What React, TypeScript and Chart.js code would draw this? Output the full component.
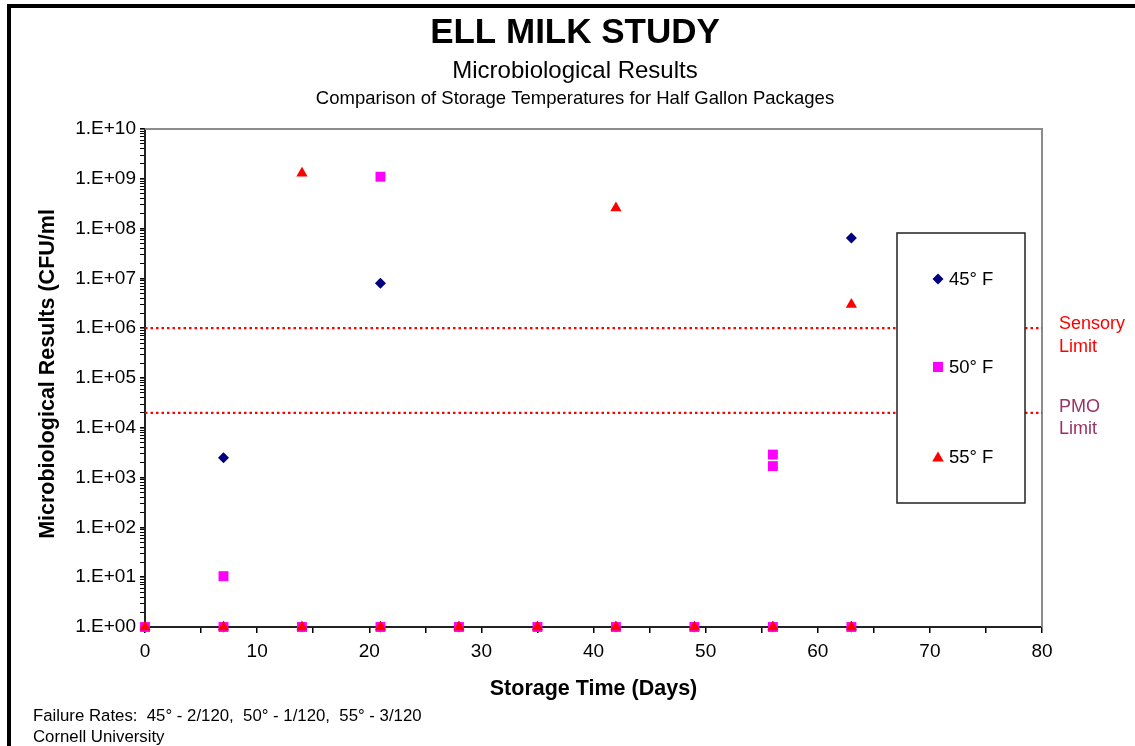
import React, { useEffect, useRef } from 'react';
import { Chart, registerables } from 'chart.js';

Chart.register(...registerables);

const FONT = '"Liberation Sans", Arial, Helvetica, sans-serif';

// ---- Data ----
const temp45F = [
  { x: 0, y: 1 }, { x: 7, y: 1 }, { x: 14, y: 1 }, { x: 21, y: 1 }, { x: 28, y: 1 },
  { x: 35, y: 1 }, { x: 42, y: 1 }, { x: 49, y: 1 }, { x: 56, y: 1 }, { x: 63, y: 1 },
  { x: 7, y: 2500 }, { x: 21, y: 8000000 }, { x: 63, y: 65000000 },
];
const temp50F = [
  { x: 0, y: 1 }, { x: 7, y: 1 }, { x: 14, y: 1 }, { x: 21, y: 1 }, { x: 28, y: 1 },
  { x: 35, y: 1 }, { x: 42, y: 1 }, { x: 49, y: 1 }, { x: 56, y: 1 }, { x: 63, y: 1 },
  { x: 7, y: 10.5 }, { x: 21, y: 1100000000 }, { x: 56, y: 2900 }, { x: 56, y: 1700 },
];
const temp55F = [
  { x: 0, y: 1 }, { x: 7, y: 1 }, { x: 14, y: 1 }, { x: 21, y: 1 }, { x: 28, y: 1 },
  { x: 35, y: 1 }, { x: 42, y: 1 }, { x: 49, y: 1 }, { x: 56, y: 1 }, { x: 63, y: 1 },
  { x: 14, y: 1300000000 }, { x: 42, y: 260000000 }, { x: 63, y: 3000000 },
];

const seriesNames = ['45\u00B0 F', '50\u00B0 F', '55\u00B0 F'];
const seriesColors = ['#000080', '#FF00FF', '#FF0000'];

const sensoryLimit = 1000000;
const pmoLimit = 20000;
const xRange = [0, 80];

const yTickValues = [1, 10, 100, 1e3, 1e4, 1e5, 1e6, 1e7, 1e8, 1e9, 1e10];
const yTickLabels = ['1.E+00', '1.E+01', '1.E+02', '1.E+03', '1.E+04', '1.E+05', '1.E+06', '1.E+07', '1.E+08', '1.E+09', '1.E+10'];
const yMinorSteps = [2, 3, 4, 5, 6, 7, 8, 9];
const xTickStep = 5;
const xLabelStep = 10;

const titleText = 'ELL MILK STUDY';
const subtitleText = 'Microbiological Results';
const subtitle2Text = 'Comparison of Storage Temperatures for Half Gallon Packages';
const xTitle = 'Storage Time (Days)';
const yTitle = 'Microbiological Results (CFU/ml';
const footerLines = ['Failure Rates:  45\u00B0 - 2/120,  50\u00B0 - 1/120,  55\u00B0 - 3/120', 'Cornell University'];

function drawMarker(ctx: CanvasRenderingContext2D, kind: number, x: number, y: number, color: string) {
  ctx.save();
  ctx.fillStyle = color;
  ctx.beginPath();
  if (kind === 0) {
    const r = 5.5;
    ctx.moveTo(x, y - r);
    ctx.lineTo(x + r, y);
    ctx.lineTo(x, y + r);
    ctx.lineTo(x - r, y);
  } else if (kind === 1) {
    ctx.rect(x - 5, y - 5, 10, 10);
  } else {
    ctx.moveTo(x, y - 5.5);
    ctx.lineTo(x + 5.8, y + 4.5);
    ctx.lineTo(x - 5.8, y + 4.5);
  }
  ctx.closePath();
  ctx.fill();
  ctx.restore();
}

const decorPlugin = {
  id: 'decor',
  beforeDraw(chart: any) {
    const ctx = chart.ctx as CanvasRenderingContext2D;
    ctx.save();
    ctx.fillStyle = '#ffffff';
    ctx.fillRect(0, 0, chart.width, chart.height);
    ctx.restore();
  },
  beforeDatasetsDraw(chart: any) {
    const ctx = chart.ctx as CanvasRenderingContext2D;
    const a = chart.chartArea;
    ctx.save();
    ctx.strokeStyle = '#8c8c8c';
    ctx.lineWidth = 2;
    ctx.beginPath();
    ctx.moveTo(a.left, a.top);
    ctx.lineTo(a.right, a.top);
    ctx.lineTo(a.right, a.bottom);
    ctx.stroke();
    ctx.restore();
  },
  afterDatasetsDraw(chart: any) {
    const ctx = chart.ctx as CanvasRenderingContext2D;
    // legend box
    ctx.save();
    ctx.fillStyle = '#ffffff';
    ctx.fillRect(897, 233, 128, 270);
    ctx.strokeStyle = '#222222';
    ctx.lineWidth = 1.5;
    ctx.strokeRect(897, 233, 128, 270);
    const rows = [279, 367, 457];
    ctx.font = `18.5px ${FONT}`;
    ctx.textAlign = 'left';
    ctx.textBaseline = 'middle';
    for (let i = 0; i < 3; i++) {
      drawMarker(ctx, i, 938, rows[i], seriesColors[i]);
      ctx.fillStyle = '#000000';
      ctx.fillText(seriesNames[i], 949, rows[i] + 1);
    }
    // limit labels
    const ys = chart.scales.y;
    const sy = ys.getPixelForValue(sensoryLimit);
    const py = ys.getPixelForValue(pmoLimit);
    ctx.font = `18px ${FONT}`;
    ctx.fillStyle = '#FF0000';
    ctx.fillText('Sensory', 1059, sy - 4);
    ctx.fillText('Limit', 1059, sy + 19);
    ctx.fillStyle = '#993366';
    ctx.fillText('PMO', 1059, py - 6);
    ctx.fillText('Limit', 1059, py + 16);
    ctx.restore();
  },
  afterDraw(chart: any) {
    const ctx = chart.ctx as CanvasRenderingContext2D;
    const a = chart.chartArea;
    ctx.save();
    ctx.fillStyle = '#000000';
    ctx.textAlign = 'center';
    ctx.textBaseline = 'middle';
    ctx.font = `bold 35px ${FONT}`;
    ctx.fillText(titleText, 575, 33);
    ctx.font = `24px ${FONT}`;
    ctx.fillText(subtitleText, 575, 71);
    ctx.font = `18.5px ${FONT}`;
    ctx.fillText(subtitle2Text, 575, 99);
    // axis titles
    ctx.font = `bold 21.5px ${FONT}`;
    ctx.fillText(xTitle, (a.left + a.right) / 2, 689);
    ctx.save();
    ctx.translate(48, 374);
    ctx.rotate(-Math.PI / 2);
    ctx.fillText(yTitle, 0, 0);
    ctx.restore();
    // footer
    ctx.textAlign = 'left';
    ctx.font = `16.8px ${FONT}`;
    ctx.fillText(footerLines[0], 33, 716);
    ctx.fillText(footerLines[1], 33, 737);
    // outer border
    ctx.fillRect(7, 4, 4, chart.height - 4);
    ctx.fillRect(7, 4, chart.width - 7, 4);
    ctx.restore();
  },
};

export default function App() {
  const canvasRef = useRef<HTMLCanvasElement | null>(null);

  useEffect(() => {
    if (!canvasRef.current) return;
    const limitLine = (v: number, label: string) => ({
      type: 'line' as const,
      label,
      data: [{ x: xRange[0], y: v }, { x: xRange[1], y: v }],
      borderColor: '#FF0000',
      borderWidth: 2.2,
      borderDash: [2.5, 3],
      pointRadius: 0,
      showLine: true,
      fill: false,
      order: 10,
    });
    const chart = new Chart(canvasRef.current, {
      type: 'scatter',
      data: {
        datasets: [
          limitLine(sensoryLimit, 'Sensory Limit'),
          limitLine(pmoLimit, 'PMO Limit'),
          {
            label: seriesNames[0],
            data: temp45F,
            pointStyle: 'rectRot',
            pointRadius: 5.5,
            backgroundColor: seriesColors[0],
            borderColor: seriesColors[0],
            borderWidth: 0,
            order: 3,
          },
          {
            label: seriesNames[1],
            data: temp50F,
            pointStyle: 'rect',
            pointRadius: 7,
            backgroundColor: seriesColors[1],
            borderColor: seriesColors[1],
            borderWidth: 0,
            order: 2,
          },
          {
            label: seriesNames[2],
            data: temp55F,
            pointStyle: 'triangle',
            pointRadius: 6.5,
            backgroundColor: seriesColors[2],
            borderColor: seriesColors[2],
            borderWidth: 0,
            order: 1,
          },
        ] as any,
      },
      options: {
        animation: false,
        responsive: false,
        devicePixelRatio: 1,
        clip: false as any,
        layout: { padding: { left: 0, top: 129, right: 93, bottom: 0 } },
        plugins: {
          legend: { display: false },
          tooltip: { enabled: false },
          title: { display: false },
        },
        scales: {
          x: {
            type: 'linear',
            min: xRange[0],
            max: xRange[1],
            afterFit: (s: any) => { s.height = 119; },
            grid: { display: true, drawOnChartArea: false, drawTicks: true, tickLength: 6, color: '#000000', lineWidth: 1.5 },
            border: { display: true, color: '#222222', width: 2 },
            ticks: {
              stepSize: xTickStep,
              autoSkip: false,
              maxRotation: 0,
              padding: 7,
              color: '#000000',
              font: { family: FONT, size: 19 },
              callback: (v: any) => (Number(v) % xLabelStep === 0 ? String(v) : ''),
            },
          },
          y: {
            type: 'logarithmic',
            min: yTickValues[0],
            max: yTickValues[yTickValues.length - 1],
            afterFit: (s: any) => { s.width = 145; },
            afterBuildTicks: (s: any) => {
              const t: any[] = [];
              for (let i = 0; i < yTickValues.length; i++) {
                t.push({ value: yTickValues[i], major: true });
                if (i < yTickValues.length - 1) {
                  for (const m of yMinorSteps) t.push({ value: m * yTickValues[i], major: false });
                }
              }
              s.ticks = t;
            },
            grid: {
              display: true,
              drawOnChartArea: false,
              drawTicks: true,
              tickLength: 5,
              color: '#000000',
              lineWidth: (c: any) => (c.tick && yTickValues.indexOf(c.tick.value) >= 0 ? 1.6 : 1),
            },
            border: { display: true, color: '#222222', width: 2 },
            ticks: {
              autoSkip: false,
              padding: 4,
              color: '#000000',
              font: { family: FONT, size: 19 },
              callback: (v: any) => {
                const i = yTickValues.indexOf(Number(v));
                return i >= 0 ? yTickLabels[i] : '';
              },
            },
          },
        },
      } as any,
      plugins: [decorPlugin],
    });
    return () => chart.destroy();
  }, []);

  return (
    <canvas
      ref={canvasRef}
      width={1135}
      height={746}
      style={{ position: 'absolute', left: 0, top: 0, width: '1135px', height: '746px' }}
    />
  );
}
